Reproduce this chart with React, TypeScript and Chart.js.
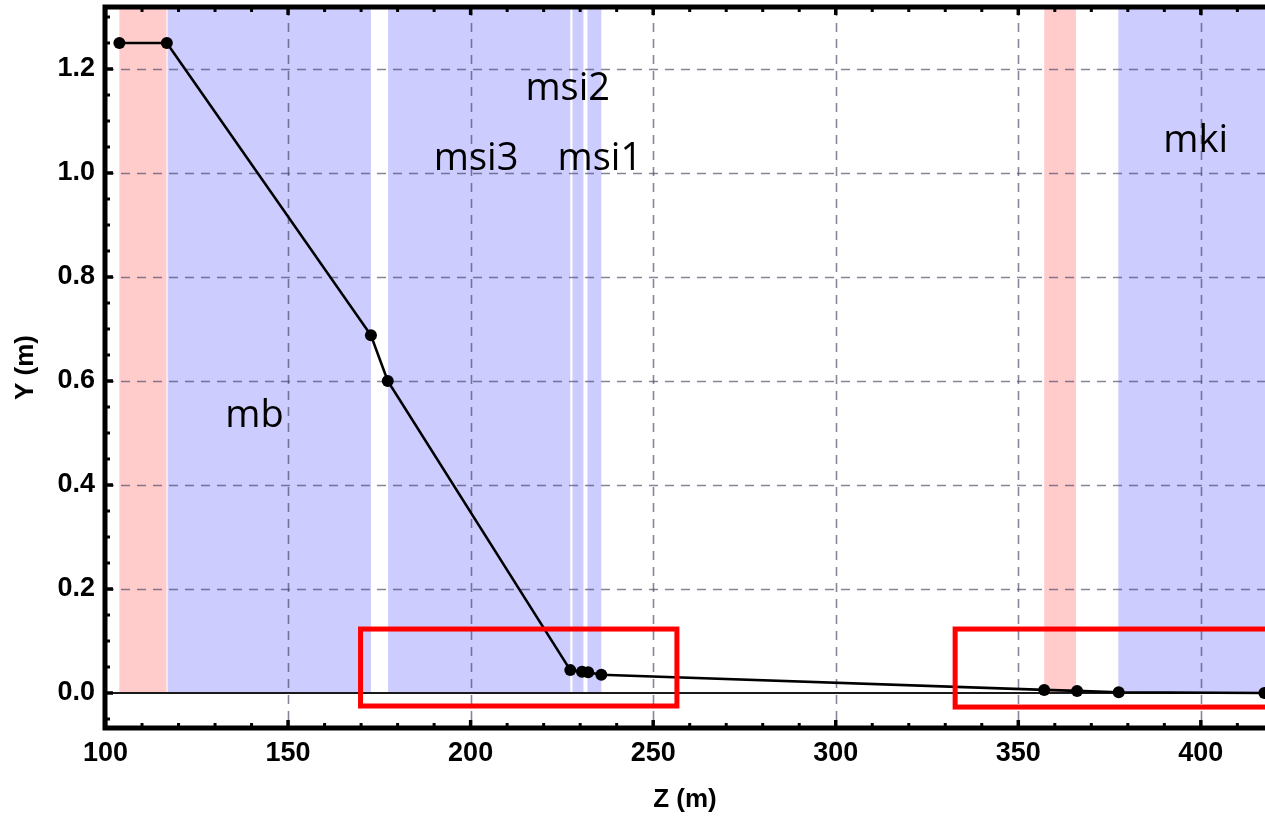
import React, { useEffect, useRef } from 'react';
import { Chart, registerables } from 'chart.js';

Chart.register(...registerables);

// ---- data ----
const zValues = [103.8, 116.8, 172.7, 177.3, 227.3, 230.5, 232.2, 235.8, 357.1, 366.1, 377.5, 417.4];
const yValues = [1.25, 1.25, 0.688, 0.6, 0.044, 0.041, 0.04, 0.035, 0.006, 0.004, 0.0015, 0.0];

const xTicks = [100, 150, 200, 250, 300, 350, 400];
const yTicks = [0, 0.2, 0.4, 0.6, 0.8, 1.0, 1.2];

const bandStarts = [103.8, 117.0, 177.4, 227.9, 232.0, 357.1, 377.4];
const bandEnds = [116.7, 172.7, 227.3, 230.9, 235.8, 365.8, 440];
const bandKinds = ['pink', 'blue', 'blue', 'blue', 'blue', 'pink', 'blue'];

const labelTexts = ['mb', 'msi3', 'msi2', 'msi1', 'mki'];
const labelZ = [140.8, 201.5, 226.6, 235.4, 398.6];
const labelY = [0.512, 1.006, 1.14, 1.006, 1.041];

const boxZStart = [169.85, 332.7];
const boxZEnd = [256.5, 440];
const boxYTop = [0.123, 0.123];
const boxYBottom = [-0.025, -0.027];

const X_MIN = 99.86;
const X_MAX = 417.57;
const Y_MIN = -0.0673;
const Y_MAX = 1.3192;

const TICK_FONT = '"Liberation Sans", Arial, sans-serif';

const overlay = {
  id: 'overlay',
  beforeDatasetsDraw(chart: any) {
    const { ctx, chartArea, scales } = chart;
    const { left, right, top, bottom } = chartArea;
    const x = scales.x;
    const y = scales.y;
    ctx.save();
    const y0 = y.getPixelForValue(0);
    bandStarts.forEach((s, i) => {
      const a = Math.max(x.getPixelForValue(s), left);
      const b = Math.min(x.getPixelForValue(bandEnds[i]), right);
      ctx.fillStyle = bandKinds[i] === 'pink' ? '#FFCBCB' : '#CCCCFF';
      ctx.fillRect(a, top, b - a, y0 - top);
    });
    // dashed grid
    ctx.setLineDash([9, 7]);
    ctx.lineWidth = 1.6;
    ctx.strokeStyle = 'rgba(60,60,90,0.62)';
    xTicks.forEach((v) => {
      if (v === 100) return;
      const px = Math.round(x.getPixelForValue(v)) + 0.5;
      ctx.beginPath();
      ctx.moveTo(px, top);
      ctx.lineTo(px, bottom);
      ctx.stroke();
    });
    yTicks.forEach((v) => {
      if (v === 0) return;
      const py = Math.round(y.getPixelForValue(v)) + 0.5;
      ctx.beginPath();
      ctx.moveTo(left, py);
      ctx.lineTo(right, py);
      ctx.stroke();
    });
    ctx.setLineDash([]);
    // zero axis line
    ctx.strokeStyle = '#1a1a1a';
    ctx.lineWidth = 2;
    ctx.beginPath();
    ctx.moveTo(left, y0);
    ctx.lineTo(right, y0);
    ctx.stroke();
    ctx.restore();
  },
  afterDraw(chart: any) {
    const { ctx, chartArea, scales } = chart;
    const { left, right, top, bottom } = chartArea;
    const x = scales.x;
    const y = scales.y;
    ctx.save();
    // region labels
    ctx.fillStyle = '#000';
    ctx.font = '38px "Open Sans", sans-serif';
    ctx.textAlign = 'center';
    ctx.textBaseline = 'alphabetic';
    labelTexts.forEach((t, i) => {
      ctx.fillText(t, x.getPixelForValue(labelZ[i]), y.getPixelForValue(labelY[i]));
    });
    // frame
    ctx.strokeStyle = '#000';
    ctx.lineWidth = 5;
    ctx.beginPath();
    ctx.moveTo(right + 5, top);
    ctx.lineTo(left, top);
    ctx.lineTo(left, bottom);
    ctx.lineTo(right + 5, bottom);
    ctx.stroke();
    // ticks
    const drawTick = (x1: number, y1: number, x2: number, y2: number, w: number) => {
      ctx.lineWidth = w;
      ctx.beginPath();
      ctx.moveTo(x1, y1);
      ctx.lineTo(x2, y2);
      ctx.stroke();
    };
    for (let v = 100; v <= 420; v += 10) {
      const px = x.getPixelForValue(v);
      if (px > right) break;
      const major = v % 50 === 0;
      const len = major ? 8 : 5;
      const w = major ? 3.5 : 3;
      drawTick(px, bottom, px, bottom - len, w);
      drawTick(px, top, px, top + len, w);
    }
    for (let k = -1; k <= 26; k++) {
      const v = k * 0.05;
      const py = y.getPixelForValue(v);
      if (py < top || py > bottom) continue;
      const major = k % 4 === 0;
      drawTick(left, py, left + (major ? 8 : 5), py, major ? 3.5 : 3);
    }
    // red boxes
    ctx.strokeStyle = '#FF0000';
    ctx.lineWidth = 5;
    boxZStart.forEach((s, i) => {
      const a = x.getPixelForValue(s);
      const b = x.getPixelForValue(boxZEnd[i]);
      const t = y.getPixelForValue(boxYTop[i]);
      const bt = y.getPixelForValue(boxYBottom[i]);
      ctx.strokeRect(a, t, b - a, bt - t);
    });
    // axis titles
    ctx.fillStyle = '#000';
    ctx.font = 'bold 26px ' + TICK_FONT;
    ctx.textAlign = 'center';
    ctx.textBaseline = 'alphabetic';
    ctx.fillText('Z (m)', (left + right) / 2, 807);
    ctx.translate(33, (top + bottom) / 2);
    ctx.rotate(-Math.PI / 2);
    ctx.fillText('Y (m)', 0, 0);
    ctx.restore();
  },
};

export default function App() {
  const canvasRef = useRef<HTMLCanvasElement | null>(null);

  useEffect(() => {
    if (!canvasRef.current) return;
    const chart = new Chart(canvasRef.current, {
      type: 'scatter',
      data: {
        datasets: [
          {
            data: zValues.map((z, i) => ({ x: z, y: yValues[i] })),
            showLine: true,
            borderColor: '#000',
            borderWidth: 2.6,
            backgroundColor: '#000',
            pointBackgroundColor: '#000',
            pointBorderColor: '#000',
            pointRadius: 6,
            pointBorderWidth: 0,
            clip: false as any,
          },
        ],
      },
      options: {
        responsive: false,
        animation: false,
        devicePixelRatio: 1,
        layout: { autoPadding: false, padding: { top: 7, left: 0, right: 0, bottom: 0 } },
        plugins: {
          legend: { display: false },
          tooltip: { enabled: false },
        },
        scales: {
          x: {
            type: 'linear',
            min: X_MIN,
            max: X_MAX,
            afterBuildTicks: (s: any) => {
              s.ticks = xTicks.map((v) => ({ value: v }));
            },
            afterFit: (s: any) => {
              s.height = 90;
              s.paddingLeft = 0;
              s.paddingRight = 0;
            },
            grid: { display: false, drawTicks: false },
            border: { display: false },
            ticks: {
              color: '#000',
              padding: 9,
              maxRotation: 0,
              autoSkip: false,
              font: { family: TICK_FONT, size: 27, weight: 'bold' },
              callback: (v: any) => String(v),
            },
          },
          y: {
            type: 'linear',
            min: Y_MIN,
            max: Y_MAX,
            afterBuildTicks: (s: any) => {
              s.ticks = yTicks.map((v) => ({ value: v }));
            },
            afterFit: (s: any) => {
              s.width = 105;
              s.paddingTop = 0;
              s.paddingBottom = 0;
            },
            grid: { display: false, drawTicks: false },
            border: { display: false },
            ticks: {
              color: '#000',
              padding: 10,
              autoSkip: false,
              font: { family: TICK_FONT, size: 27, weight: 'bold' },
              callback: (v: any) => Number(v).toFixed(1),
            },
          },
        },
      },
      plugins: [overlay],
    });
    return () => chart.destroy();
  }, []);

  return (
    <div style={{ position: 'fixed', left: 0, top: 0, width: 1265, height: 818, background: '#fff' }}>
      <canvas ref={canvasRef} width={1265} height={818} />
    </div>
  );
}
